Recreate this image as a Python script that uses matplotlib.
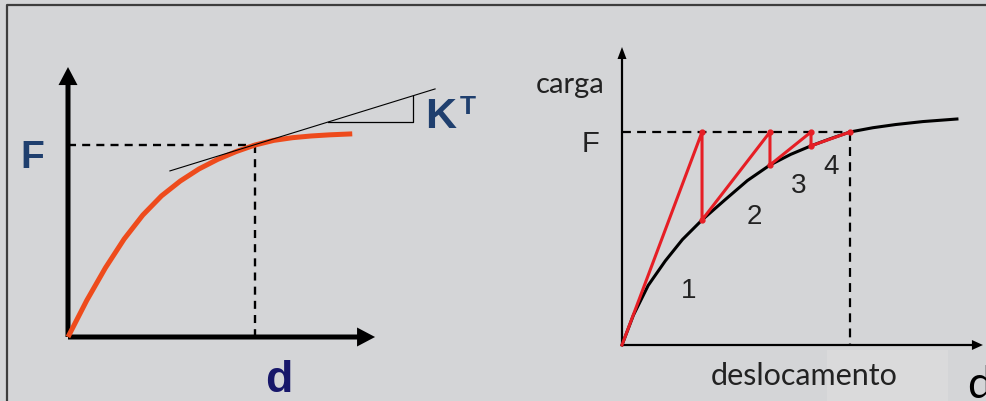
import matplotlib.pyplot as plt
from matplotlib.patches import Rectangle
from matplotlib.lines import Line2D

# ---- left sketch: load-displacement curve with tangent stiffness ----
curve_d = [0, 0.1, 0.2, 0.3, 0.4, 0.5, 0.6, 0.7, 0.8, 0.9, 1.0, 1.1, 1.2, 1.3, 1.4, 1.52]
curve_F = [0, 0.19, 0.36, 0.51, 0.635, 0.735, 0.812, 0.875, 0.925, 0.966, 1.0, 1.024, 1.038, 1.047, 1.053, 1.058]
target_d = 1.0
target_F = 1.0
tangent_d = [0.545, 1.963]
tangent_F = [0.865, 1.292]
tri_d = [1.392, 1.845, 1.845]
tri_F = [1.120, 1.120, 1.256]

# ---- right sketch: constant-stiffness iterations ----
resp_d = [0, 0.05, 0.115, 0.19, 0.265, 0.351, 0.45, 0.55, 0.649, 0.74, 0.829,
          0.915, 1.0, 1.1, 1.2, 1.32, 1.469]
resp_F = [0, 0.14, 0.28, 0.395, 0.495, 0.587, 0.68, 0.772, 0.845, 0.895, 0.935,
          0.969, 1.0, 1.02, 1.035, 1.049, 1.061]
iter_d = [0, 0.351, 0.351, 0.649, 0.649, 0.829, 0.829, 1.0]
iter_F = [0, 1.0, 0.587, 1.0, 0.845, 1.0, 0.935, 1.0]
step_labels = ['1', '2', '3', '4']
step_d = [0.294, 0.579, 0.774, 0.917]
step_F = [0.254, 0.603, 0.746, 0.836]

bg = '#d4d5d7'
blue = '#1f3f6e'
orange = '#ee4b1c'
red = '#e61e25'

fig = plt.figure(figsize=(9.87, 4.01), dpi=100, facecolor=bg)

# pixel scale of each panel (px per unit) and origin
ax1 = fig.add_axes([0, 0, 490 / 987, 1])
ax1.set_xlim(-68 / 187, (490 - 68) / 187)
ax1.set_ylim((337 - 401) / 192, 337 / 192)
ax1.axis('off')

ax2 = fig.add_axes([490 / 987, 0, 497 / 987, 1])
ax2.set_xlim(-(622 - 490) / 228, (987 - 622) / 228)
ax2.set_ylim((345 - 401) / 213, 345 / 213)
ax2.axis('off')

# frame lines
fig.add_artist(Line2D([6.5 / 987, 6.5 / 987, 1], [0, 1 - 4.5 / 401, 1 - 4.5 / 401],
                      transform=fig.transFigure, color='#3d3d3d', lw=1.6))

# left axes arrows
ax1.arrow(0, 0, 1.642, 0, width=5 / 192, head_width=19 / 192, head_length=18 / 187,
          length_includes_head=True, fc='black', ec='none', zorder=2)
ax1.arrow(0, 0, 0, 1.406, width=5 / 187, head_width=19 / 187, head_length=18 / 192,
          length_includes_head=True, fc='black', ec='none', zorder=2)

ax1.plot([0, target_d], [target_F, target_F], color='black', lw=1.7, ls=(0, (3.4, 2.6)), zorder=3)
ax1.plot([target_d, target_d], [target_F, 0], color='black', lw=1.7, ls=(0, (3.4, 2.6)), zorder=3)
ax1.plot(curve_d, curve_F, color=orange, lw=3.6, solid_capstyle='butt',
         solid_joinstyle='round', zorder=4)
ax1.plot(tangent_d, tangent_F, color='black', lw=0.8, zorder=5)
ax1.plot(tri_d, tri_F, color='black', lw=0.9, zorder=5)

ax1.text(-0.19, 0.934, 'F', fontsize=28, fontweight='bold', color=blue,
         family='Liberation Sans', ha='center', va='center')
ax1.text(1.995, 1.148, 'K', fontsize=31, fontweight='bold', color=blue,
         family='Liberation Sans', ha='center', va='center')
ax1.text(2.136, 1.198, 'T', fontsize=19, fontweight='bold', color=blue,
         family='Liberation Sans', ha='center', va='center')
ax1.text(1.128, -0.224, 'd', fontsize=32, fontweight='bold', color='#17176a',
         family='Liberation Sans', ha='center', va='center')

# right panel
ax2.add_patch(Rectangle((0.899, -0.263), 0.531, 0.24, color='#dadadb', lw=0, zorder=0))
ax2.arrow(0, 0, 1.583, 0, width=2.2 / 213, head_width=10 / 213, head_length=11 / 228,
          length_includes_head=True, fc='black', ec='none', zorder=2)
ax2.arrow(0, 0, 0, 1.399, width=2.2 / 228, head_width=9 / 228, head_length=12 / 213,
          length_includes_head=True, fc='black', ec='none', zorder=2)

ax2.plot([0, target_d], [target_F, target_F], color='black', lw=1.6, ls=(0, (4.0, 2.8)), zorder=3)
ax2.plot([target_d, target_d], [target_F, 0], color='black', lw=1.6, ls=(0, (4.0, 2.8)), zorder=3)
ax2.plot(resp_d, resp_F, color='black', lw=2.2, solid_joinstyle='round', zorder=4)
ax2.plot(iter_d, iter_F, color=red, lw=2.2, marker='o', markersize=3.5,
         markevery=list(range(1, len(iter_d))), zorder=5)

for lab, x, y in zip(step_labels, step_d, step_F):
    ax2.text(x, y, lab, fontsize=20, color='#222222', family='Liberation Sans',
             ha='center', va='center')

ax2.text(-0.228, 1.184, 'carga', fontsize=21, color='#222222', family='Lato',
         ha='center', va='baseline')
ax2.text(-0.136, 0.908, 'F', fontsize=21, color='#222222', family='Liberation Sans',
         ha='center', va='baseline')
ax2.text(0.800, -0.188, 'deslocamento', fontsize=22, color='#222222', family='Lato',
         ha='center', va='baseline')
ax2.text(1.515, -0.249, 'd', fontsize=32, color='black', family='Lato',
         ha='left', va='baseline')

fig.savefig('out.png', dpi=100, facecolor=bg)
